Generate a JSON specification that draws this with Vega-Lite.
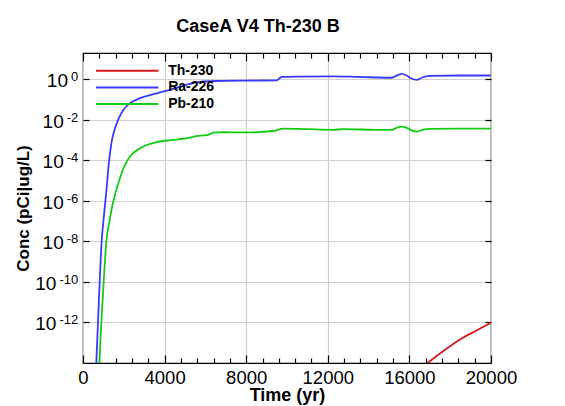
{
  "$schema": "https://vega.github.io/schema/vega-lite/v6.json",
  "width": 408,
  "height": 310,
  "autosize": {"type": "none"},
  "padding": {"left": 83, "top": 53, "right": 74, "bottom": 43},
  "background": "white",
  "title": {"text": "CaseA V4 Th-230 B", "font": "Liberation Sans", "fontSize": 18, "fontWeight": "bold", "color": "#000", "frame": "group", "anchor": "middle", "offset": 16, "dx": -29},
  "config": {
    "view": {"stroke": "#000", "strokeWidth": 1.2},
    "font": "Liberation Sans",
    "axis": {"gridColor": "#d0d0d0", "gridWidth": 1.2, "tickColor": "#000", "tickWidth": 1.2, "labelColor": "#000", "titleColor": "#000", "labelFont": "Liberation Sans", "titleFont": "Liberation Sans"}
  },
  "data": {"values": [
    {"t": 610, "v": 1e-15, "s": "Ra-226"},
    {"t": 652, "v": 1e-14, "s": "Ra-226"},
    {"t": 735, "v": 1e-12, "s": "Ra-226"},
    {"t": 817, "v": 1e-10, "s": "Ra-226"},
    {"t": 915, "v": 1e-8, "s": "Ra-226"},
    {"t": 1000, "v": 1e-7, "s": "Ra-226"},
    {"t": 1078, "v": 6.31e-7, "s": "Ra-226"},
    {"t": 1160, "v": 4.47e-6, "s": "Ra-226"},
    {"t": 1275, "v": 8.91e-5, "s": "Ra-226"},
    {"t": 1405, "v": 8.51e-4, "s": "Ra-226"},
    {"t": 1569, "v": 3.89e-3, "s": "Ra-226"},
    {"t": 1732, "v": 1.07e-2, "s": "Ra-226"},
    {"t": 1977, "v": 3.09e-2, "s": "Ra-226"},
    {"t": 2304, "v": 6.61e-2, "s": "Ra-226"},
    {"t": 2794, "v": 0.1175, "s": "Ra-226"},
    {"t": 3611, "v": 0.204, "s": "Ra-226"},
    {"t": 4265, "v": 0.302, "s": "Ra-226"},
    {"t": 5229, "v": 0.603, "s": "Ra-226"},
    {"t": 5735, "v": 0.759, "s": "Ra-226"},
    {"t": 6536, "v": 0.832, "s": "Ra-226"},
    {"t": 8000, "v": 0.871, "s": "Ra-226"},
    {"t": 9495, "v": 0.891, "s": "Ra-226"},
    {"t": 9740, "v": 1.318, "s": "Ra-226"},
    {"t": 10500, "v": 1.38, "s": "Ra-226"},
    {"t": 12270, "v": 1.413, "s": "Ra-226"},
    {"t": 13500, "v": 1.318, "s": "Ra-226"},
    {"t": 15132, "v": 1.202, "s": "Ra-226"},
    {"t": 15400, "v": 1.585, "s": "Ra-226"},
    {"t": 15623, "v": 1.862, "s": "Ra-226"},
    {"t": 15850, "v": 1.585, "s": "Ra-226"},
    {"t": 16100, "v": 1.096, "s": "Ra-226"},
    {"t": 16358, "v": 0.933, "s": "Ra-226"},
    {"t": 16600, "v": 1.202, "s": "Ra-226"},
    {"t": 17010, "v": 1.479, "s": "Ra-226"},
    {"t": 18500, "v": 1.549, "s": "Ra-226"},
    {"t": 20000, "v": 1.549, "s": "Ra-226"},
    {"t": 750, "v": 1e-15, "s": "Pb-210"},
    {"t": 801, "v": 1e-14, "s": "Pb-210"},
    {"t": 899, "v": 1e-12, "s": "Pb-210"},
    {"t": 1013, "v": 1e-10, "s": "Pb-210"},
    {"t": 1144, "v": 1e-8, "s": "Pb-210"},
    {"t": 1300, "v": 1e-7, "s": "Pb-210"},
    {"t": 1405, "v": 3.98e-7, "s": "Pb-210"},
    {"t": 1569, "v": 2.04e-6, "s": "Pb-210"},
    {"t": 1814, "v": 1.35e-5, "s": "Pb-210"},
    {"t": 2059, "v": 6.03e-5, "s": "Pb-210"},
    {"t": 2304, "v": 1.55e-4, "s": "Pb-210"},
    {"t": 2794, "v": 3.98e-4, "s": "Pb-210"},
    {"t": 3611, "v": 7.94e-4, "s": "Pb-210"},
    {"t": 4426, "v": 1.02e-3, "s": "Pb-210"},
    {"t": 4902, "v": 1.17e-3, "s": "Pb-210"},
    {"t": 5735, "v": 1.66e-3, "s": "Pb-210"},
    {"t": 6100, "v": 1.78e-3, "s": "Pb-210"},
    {"t": 6400, "v": 2.34e-3, "s": "Pb-210"},
    {"t": 6900, "v": 2.45e-3, "s": "Pb-210"},
    {"t": 8025, "v": 2.4e-3, "s": "Pb-210"},
    {"t": 9330, "v": 2.82e-3, "s": "Pb-210"},
    {"t": 9819, "v": 3.72e-3, "s": "Pb-210"},
    {"t": 11000, "v": 3.47e-3, "s": "Pb-210"},
    {"t": 12270, "v": 3.24e-3, "s": "Pb-210"},
    {"t": 12760, "v": 3.47e-3, "s": "Pb-210"},
    {"t": 14559, "v": 3.24e-3, "s": "Pb-210"},
    {"t": 15132, "v": 3.24e-3, "s": "Pb-210"},
    {"t": 15400, "v": 4.17e-3, "s": "Pb-210"},
    {"t": 15623, "v": 4.68e-3, "s": "Pb-210"},
    {"t": 15850, "v": 4.17e-3, "s": "Pb-210"},
    {"t": 16100, "v": 3.02e-3, "s": "Pb-210"},
    {"t": 16358, "v": 2.63e-3, "s": "Pb-210"},
    {"t": 16600, "v": 3.16e-3, "s": "Pb-210"},
    {"t": 17010, "v": 3.63e-3, "s": "Pb-210"},
    {"t": 18500, "v": 3.72e-3, "s": "Pb-210"},
    {"t": 20000, "v": 3.72e-3, "s": "Pb-210"},
    {"t": 16700, "v": 6.76e-15, "s": "Th-230"},
    {"t": 16928, "v": 1.05e-14, "s": "Th-230"},
    {"t": 17662, "v": 3.89e-14, "s": "Th-230"},
    {"t": 18480, "v": 1.45e-13, "s": "Th-230"},
    {"t": 19216, "v": 3.72e-13, "s": "Th-230"},
    {"t": 20000, "v": 9.77e-13, "s": "Th-230"}
  ]},
  "resolve": {"axis": {"x": "independent", "y": "independent"}},
  "layer": [
    {
      "mark": {"type": "line", "clip": true, "strokeWidth": 1.8, "interpolate": "monotone"},
      "encoding": {
        "x": {"field": "t", "type": "quantitative", "scale": {"domain": [0, 20000], "nice": false, "zero": false},
          "axis": {"orient": "bottom", "values": [0, 4000, 8000, 12000, 16000, 20000], "format": "d",
            "ticks": false, "domain": false, "grid": true,
            "labelFontSize": 18.5, "labelPadding": 5, "labelFlush": false, "labelOverlap": false, "title": "Time (yr)", "titleFontSize": 18, "titleFontWeight": "bold", "titlePadding": 0}},
        "y": {"field": "v", "type": "quantitative", "scale": {"type": "log", "domain": [1e-14, 20], "nice": false},
          "axis": {"orient": "left", "values": [1e-12, 1e-10, 1e-8, 1e-6, 1e-4, 0.01, 1], "labelExpr": "'10'",
            "ticks": false, "domain": false, "grid": true, "labelFontSize": 19, "labelOffset": 1.5,
            "labelPadding": {"condition": [{"test": "datum.value >= 0.5", "value": 15.5}, {"test": "datum.value < 1e-9", "value": 27.1}], "value": 19.8},
            "labelOverlap": false, "title": "Conc (pCi|ug/L)", "titleFontSize": 17, "titleFontWeight": "bold", "titlePadding": 2}},
        "color": {"field": "s", "type": "nominal",
          "scale": {"domain": ["Th-230", "Ra-226", "Pb-210"], "range": ["#d81818", "#3a3aff", "#14cc14"]},
          "legend": {"orient": "none", "legendX": 35.2, "legendY": 8.7, "title": null, "symbolType": "M-3.9,0H3.9", "symbolSize": 256, "symbolStrokeWidth": 2, "labelFontSize": 14, "labelFont": "Liberation Sans", "labelFontWeight": "bold", "labelColor": "#000", "labelOffset": 32, "rowPadding": 0.7, "padding": 0}}
      }
    },
    {
      "mark": {"type": "line", "opacity": 0, "strokeOpacity": 0},
      "encoding": {
        "x": {"field": "t", "type": "quantitative",
          "axis": {"orient": "top", "values": [0, 4000, 8000, 12000, 16000, 20000], "labels": false, "domain": false, "grid": false, "ticks": true, "tickSize": 8, "offset": -8, "title": null}},
        "y": {"field": "v", "type": "quantitative",
          "axis": {"orient": "left", "values": [1e-12, 1e-10, 1e-8, 1e-6, 1e-4, 0.01, 1],
            "labelExpr": "datum.value >= 0.5 ? '0' : '-' + format(-round(log(datum.value)/LN10), 'd')",
            "ticks": false, "domain": false, "grid": false, "labelFontSize": 13, "labelOffset": -2.5, "labelPadding": 5.3, "labelOverlap": false, "title": null}}
      }
    },
    {
      "mark": {"type": "line", "opacity": 0, "strokeOpacity": 0},
      "encoding": {
        "x": {"field": "t", "type": "quantitative",
          "axis": {"orient": "bottom", "values": [0, 4000, 8000, 12000, 16000, 20000], "labels": false, "domain": false, "grid": false, "ticks": true, "tickSize": 8, "offset": -8, "title": null}},
        "y": {"field": "v", "type": "quantitative",
          "axis": {"orient": "left", "values": [1e-12, 1e-10, 1e-8, 1e-6, 1e-4, 0.01, 1], "labels": false, "domain": false, "grid": false, "ticks": true, "tickSize": 6, "offset": -6, "title": null}}
      }
    },
    {
      "mark": {"type": "line", "opacity": 0, "strokeOpacity": 0},
      "encoding": {
        "x": {"field": "t", "type": "quantitative",
          "axis": {"orient": "bottom", "values": [800, 1600, 2400, 3200, 4800, 5600, 6400, 7200, 8800, 9600, 10400, 11200, 12800, 13600, 14400, 15200, 16800, 17600, 18400, 19200], "labels": false, "domain": false, "grid": false, "ticks": true, "tickSize": 5, "offset": -5, "title": null}},
        "y": {"field": "v", "type": "quantitative",
          "axis": {"orient": "right", "values": [1e-12, 1e-10, 1e-8, 1e-6, 1e-4, 0.01, 1], "labels": false, "domain": false, "grid": false, "ticks": true, "tickSize": 6, "offset": -6, "title": null}}
      }
    },
    {
      "mark": {"type": "line", "opacity": 0, "strokeOpacity": 0},
      "encoding": {
        "x": {"field": "t", "type": "quantitative",
          "axis": {"orient": "top", "values": [800, 1600, 2400, 3200, 4800, 5600, 6400, 7200, 8800, 9600, 10400, 11200, 12800, 13600, 14400, 15200, 16800, 17600, 18400, 19200], "labels": false, "domain": false, "grid": false, "ticks": true, "tickSize": 5, "offset": -5, "title": null}},
        "y": {"field": "v", "type": "quantitative", "axis": null}
      }
    }
  ]
}
